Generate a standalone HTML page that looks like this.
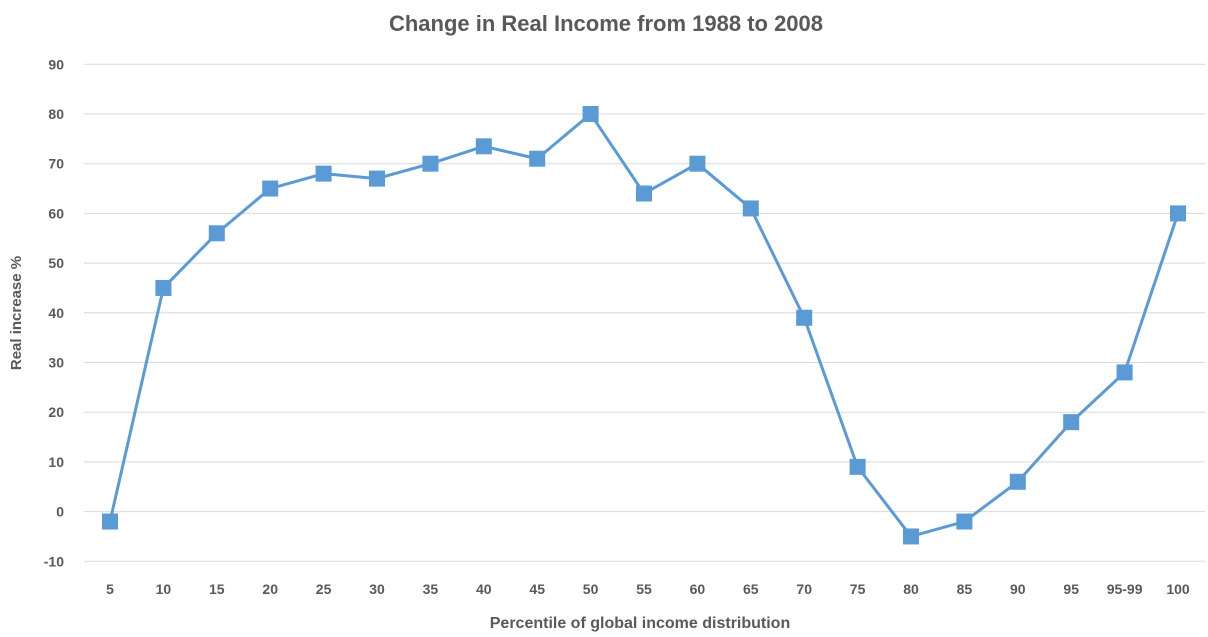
<!DOCTYPE html>
<html><head><meta charset="utf-8"><style>
body{margin:0;background:#fff;}
svg text{font-family:"Liberation Sans",sans-serif;fill:#595959;font-weight:bold;}
</style></head><body>
<svg id="chart" width="1208" height="632" xmlns="http://www.w3.org/2000/svg">
<text x="606" y="31" text-anchor="middle" font-size="22">Change in Real Income from 1988 to 2008</text>
<text x="0" y="0" transform="translate(21,313) rotate(-90)" text-anchor="middle" font-size="15">Real increase %</text>
<text x="640" y="628" text-anchor="middle" font-size="16">Percentile of global income distribution</text>
<g id="grid"></g><g id="ylabels"></g><g id="xlabels"></g><g id="series"></g>
</svg>
<script>
const categories=["5","10","15","20","25","30","35","40","45","50","55","60","65","70","75","80","85","90","95","95-99","100"];
const values=[-2,45,56,65,68,67,70,73.5,71,80,64,70,61,39,9,-5,-2,6,18,28,60];
const yTicks=[-10,0,10,20,30,40,50,60,70,80,90];
const NS="http://www.w3.org/2000/svg";
function y(v){return 511.6-v*4.97;}
function x(i){return 110+i*53.4;}
function mk(t,a,p){const e=document.createElementNS(NS,t);for(const k in a)e.setAttribute(k,a[k]);p.appendChild(e);return e;}
const grid=document.getElementById('grid'),yl=document.getElementById('ylabels'),xl=document.getElementById('xlabels'),s=document.getElementById('series');
yTicks.forEach(t=>{
 const l=mk('line',{x1:84,x2:1205,y1:y(t),y2:y(t),stroke:'#d9d9d9','stroke-width':1},grid);
 
 
 const tx=mk('text',{x:64,y:y(t)+5,'text-anchor':'end','font-size':14},yl);tx.textContent=t;
 
 
});
categories.forEach((c,i)=>{
 const tx=mk('text',{x:x(i),y:594,'text-anchor':'middle','font-size':14},xl);tx.textContent=c;
 
 
});
const pl=mk('polyline',{points:values.map((v,i)=>x(i)+','+y(v)).join(' '),fill:'none',stroke:'#5b9bd5','stroke-width':3,'stroke-linejoin':'round'},s);


values.forEach((v,i)=>{
 const r=mk('rect',{x:x(i)-8,y:y(v)-8,width:16,height:16,fill:'#5b9bd5'},s);
 
 
});
</script>
</body></html>
